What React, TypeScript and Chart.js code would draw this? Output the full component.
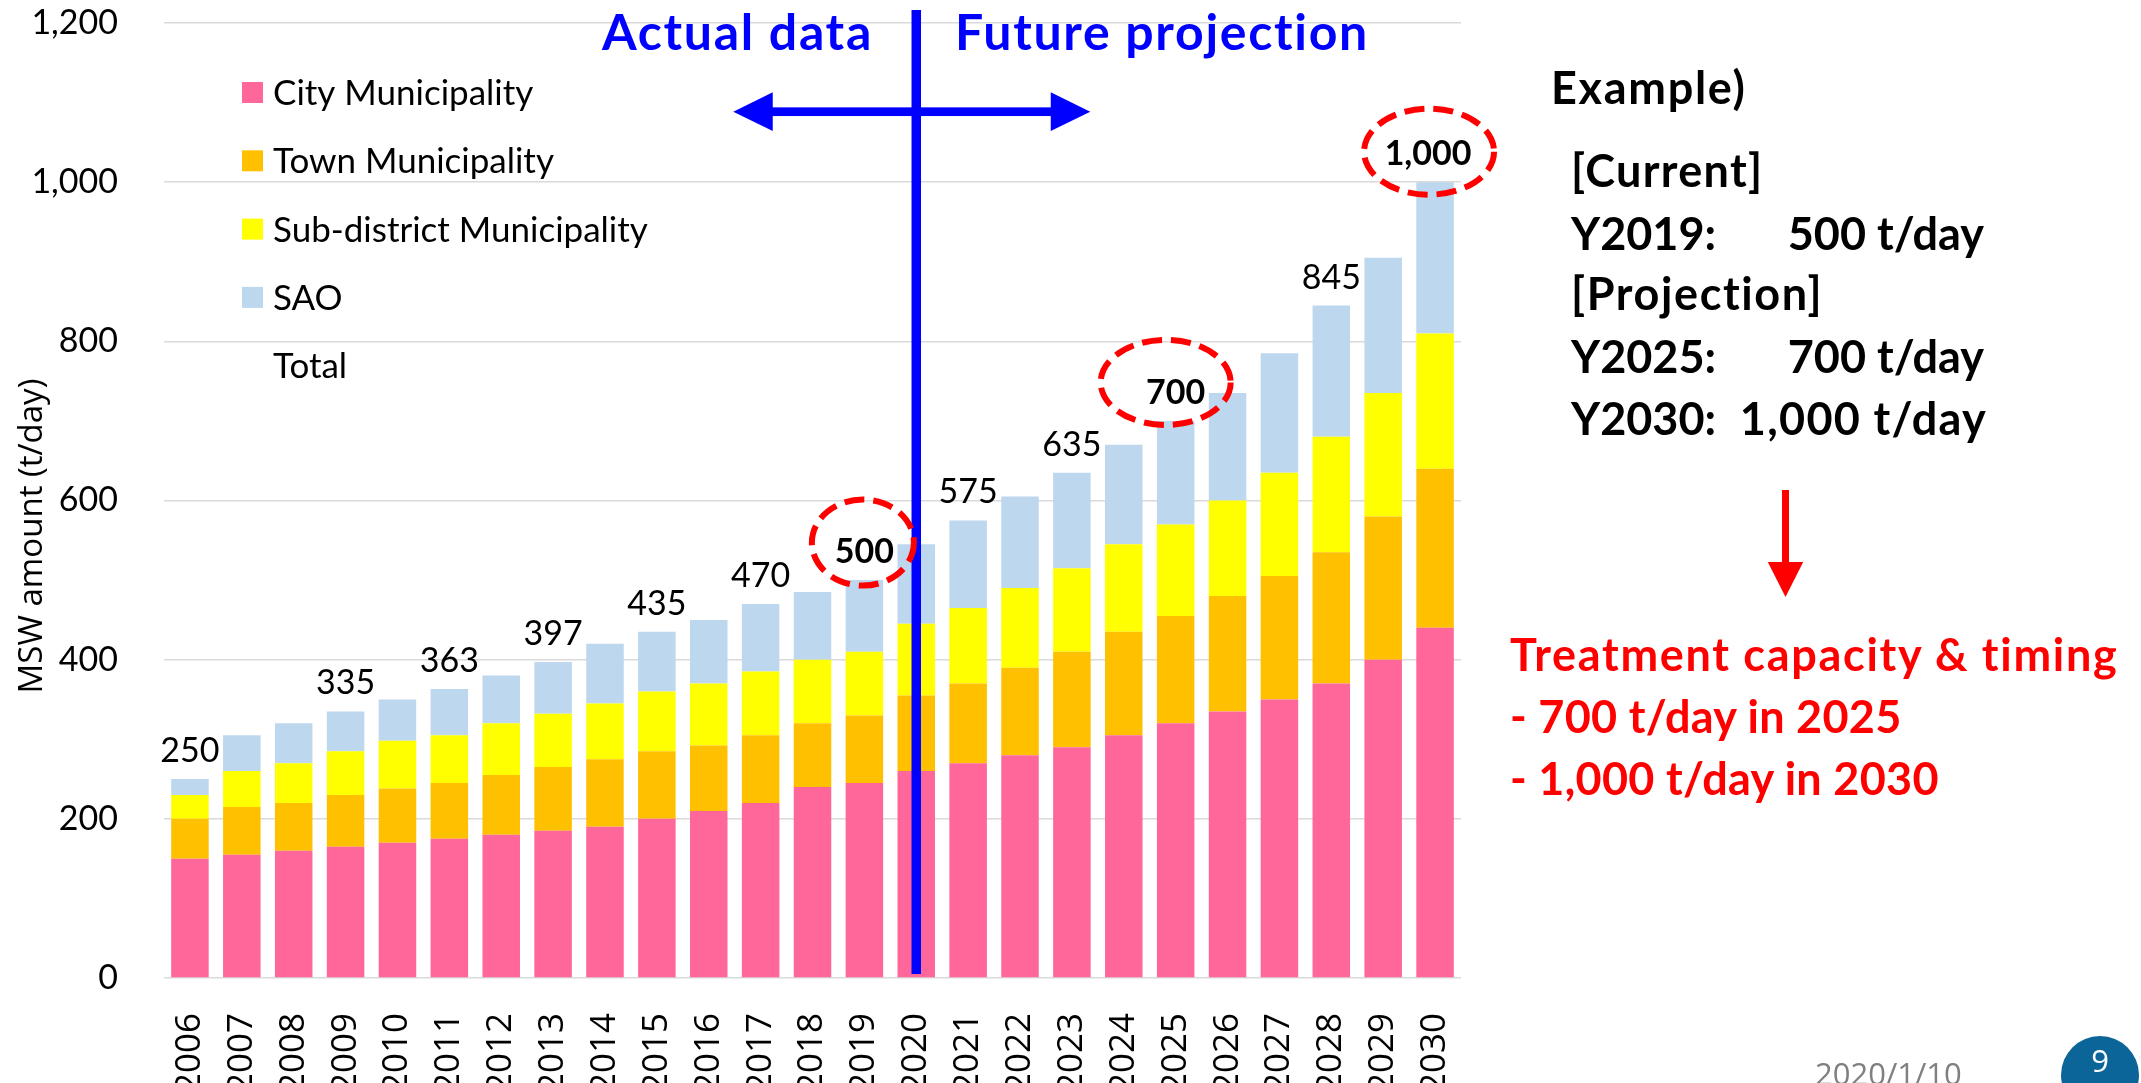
import React, { useEffect, useRef } from 'react';
import { Chart, registerables } from 'chart.js';

Chart.register(...registerables);

// ---------- data ----------
const years = [
  '2006', '2007', '2008', '2009', '2010', '2011', '2012', '2013', '2014', '2015',
  '2016', '2017', '2018', '2019', '2020', '2021', '2022', '2023', '2024', '2025',
  '2026', '2027', '2028', '2029', '2030',
];
const cityMunicipality = [150, 155, 160, 165, 170, 175, 180, 185, 190, 200, 210, 220, 240, 245, 260, 270, 280, 290, 305, 320, 335, 350, 370, 400, 440];
const townMunicipality = [50, 60, 60, 65, 68, 70, 75, 80, 85, 85, 82, 85, 80, 85, 95, 100, 110, 120, 130, 135, 145, 155, 165, 180, 200];
const subDistrictMunicipality = [30, 45, 50, 55, 60, 60, 65, 67, 70, 75, 78, 80, 80, 80, 90, 95, 100, 105, 110, 115, 120, 130, 145, 155, 170];
const saoValues = [20, 45, 50, 50, 52, 58, 60, 65, 75, 75, 80, 85, 85, 90, 100, 110, 115, 120, 125, 130, 135, 150, 165, 170, 190];
const totalValues = [250, 305, 320, 335, 350, 363, 380, 397, 420, 435, 450, 470, 485, 500, 545, 575, 605, 635, 670, 700, 735, 785, 845, 905, 1000];
const labeledYears = ['2006', '2009', '2011', '2013', '2015', '2017', '2019', '2021', '2023', '2025', '2028', '2030'];
const circledYears = ['2019', '2025', '2030'];
const dividerYear = '2020';
const yMax = 1200;
const yStep = 200;

const seriesNames = ['City Municipality', 'Town Municipality', 'Sub-district Municipality', 'SAO', 'Total'];
const seriesColors = ['#FF6699', '#FFC000', '#FFFF00', '#BDD7EE'];

const W = 2141;
const H = 1083;

const fmt = (v: number) => v.toLocaleString('en-US');

// annotation geometry (pixel tweaks relative to the bar top)
const ellipseShape: Record<string, { dx: number; dy: number; rx: number; ry: number; ldx: number }> = {
  '2019': { dx: -1.5, dy: -37.5, rx: 51, ry: 43, ldx: 0 },
  '2025': { dx: -10, dy: -38.5, rx: 65, ry: 42.5, ldx: 0 },
  '2030': { dx: -6, dy: -30.5, rx: 65, ry: 43, ldx: -7 },
};

function triangle(ctx: CanvasRenderingContext2D, pts: number[][]) {
  ctx.beginPath();
  ctx.moveTo(pts[0][0], pts[0][1]);
  for (let i = 1; i < pts.length; i++) ctx.lineTo(pts[i][0], pts[i][1]);
  ctx.closePath();
  ctx.fill();
}

const overlayPlugin = {
  id: 'overlayPlugin',
  afterDatasetsDraw(chart: any) {
    const ctx: CanvasRenderingContext2D = chart.ctx;
    const totalMeta = chart.getDatasetMeta(4);
    ctx.save();

    // legend
    chart.data.datasets.forEach((ds: any, i: number) => {
      const base = 105 + i * 68.3;
      if (ds.type !== 'line') {
        ctx.fillStyle = ds.backgroundColor;
        ctx.fillRect(242, base - 23, 21, 21);
      }
      ctx.fillStyle = '#000';
      ctx.font = '35px Lato';
      ctx.textAlign = 'left';
      ctx.textBaseline = 'alphabetic';
      ctx.fillText(ds.label, 273, base);
    });

    // divider line + double arrow
    const di = years.indexOf(dividerYear);
    const xd = totalMeta.data[di].x;
    ctx.fillStyle = '#0000FF';
    ctx.fillRect(xd - 4.75, 10, 9.5, chart.chartArea.bottom - 14);
    const ay = 111.7;
    ctx.fillRect(xd - 145, ay - 4.35, 280, 8.7);
    triangle(ctx, [[xd - 183, ay], [xd - 143.5, ay - 19.4], [xd - 143.5, ay + 19.4]]);
    triangle(ctx, [[xd + 174, ay], [xd + 134.5, ay - 19.4], [xd + 134.5, ay + 19.4]]);

    // total labels
    labeledYears.forEach((yr) => {
      const i = years.indexOf(yr);
      const pt = totalMeta.data[i];
      const bold = circledYears.includes(yr);
      const shape = ellipseShape[yr];
      ctx.font = (bold ? 'bold ' : '') + '34px Lato';
      ctx.fillStyle = '#000';
      ctx.textAlign = 'center';
      ctx.textBaseline = 'alphabetic';
      ctx.fillText(fmt(totalValues[i]), pt.x + (shape ? shape.ldx : 0), pt.y - 17);
    });

    // dashed ellipses
    ctx.strokeStyle = '#FF0000';
    ctx.lineWidth = 6;
    ctx.setLineDash([20, 9]);
    circledYears.forEach((yr) => {
      const i = years.indexOf(yr);
      const pt = totalMeta.data[i];
      const s = ellipseShape[yr];
      ctx.beginPath();
      ctx.ellipse(pt.x + s.dx, pt.y + s.dy, s.rx, s.ry, 0, 0, Math.PI * 2);
      ctx.stroke();
    });
    ctx.setLineDash([]);

    // red arrow
    ctx.fillStyle = '#FF0000';
    ctx.fillRect(1782, 490, 7, 75);
    triangle(ctx, [[1767.8, 562], [1803.2, 562], [1785.5, 597]]);

    ctx.restore();
  },
};

export default function App() {
  const canvasRef = useRef<HTMLCanvasElement | null>(null);

  useEffect(() => {
    const canvas = canvasRef.current;
    if (!canvas) return;
    const chart = new Chart(canvas, {
      type: 'bar',
      data: {
        labels: years,
        datasets: [
          { label: seriesNames[0], data: cityMunicipality, backgroundColor: seriesColors[0], borderWidth: 0, stack: 's' } as any,
          { label: seriesNames[1], data: townMunicipality, backgroundColor: seriesColors[1], borderWidth: 0, stack: 's' },
          { label: seriesNames[2], data: subDistrictMunicipality, backgroundColor: seriesColors[2], borderWidth: 0, stack: 's' },
          { label: seriesNames[3], data: saoValues, backgroundColor: seriesColors[3], borderWidth: 0, stack: 's' },
          {
            type: 'line',
            label: seriesNames[4],
            data: totalValues,
            showLine: false,
            pointRadius: 0,
            borderColor: 'rgba(0,0,0,0)',
            backgroundColor: 'rgba(0,0,0,0)',
            stack: 'total',
          },
        ],
      },
      options: {
        responsive: false,
        animation: false,
        devicePixelRatio: 1,
        layout: { padding: { left: 0, top: 23, right: W - 1461, bottom: 0 } },
        datasets: { bar: { barPercentage: 0.723, categoryPercentage: 1 } },
        plugins: { legend: { display: false }, tooltip: { enabled: false }, title: { display: false } },
        scales: {
          x: {
            stacked: true,
            grid: { display: false },
            border: { display: false },
            ticks: {
              autoSkip: false,
              minRotation: 90,
              maxRotation: 90,
              padding: 27,
              color: '#000',
              font: { family: 'Open Sans', size: 35 },
            },
            afterFit: (s: any) => {
              s.height = H - 978;
            },
          },
          y: {
            stacked: true,
            min: 0,
            max: yMax,
            grid: { color: '#DADADA', lineWidth: 1.5, drawTicks: false },
            border: { display: false },
            ticks: {
              stepSize: yStep,
              padding: 46,
              color: '#000',
              font: { family: 'Lato', size: 34 },
              callback: (v: any) => fmt(Number(v)),
            },
            afterFit: (s: any) => {
              s.width = 164;
              s.paddingTop = 21;
              s.paddingBottom = 21;
            },
          },
        },
      } as any,
      plugins: [overlayPlugin],
    });
    return () => chart.destroy();
  }, []);

  return (
    <div style={{ position: 'absolute', left: 0, top: 0, width: W, height: H, background: '#fff', overflow: 'hidden' }}>
      <canvas ref={canvasRef} width={W} height={H} style={{ position: 'absolute', left: 0, top: 0, width: W, height: H }} />
      <svg width={W} height={H} style={{ position: 'absolute', left: 0, top: 0, pointerEvents: 'none' }}>
        <text x={42} y={536} transform="rotate(-90 42 536)" textAnchor="middle" fontFamily="Open Sans" fontSize={33} fill="#000">
          MSW amount (t/day)
        </text>
        <g fontFamily="Lato" fontWeight="bold" fontSize={50} fill="#0000FF" letterSpacing={1.7}>
          <text x={602} y={50}>Actual data</text>
          <text x={955} y={50}>Future projection</text>
        </g>
        <g fontFamily="Lato" fontWeight="bold" fontSize={45} fill="#000">
          <text x={1551} y={104} letterSpacing={1.7}>Example)</text>
          <text x={1571} y={187} letterSpacing={1.3}>[Current]</text>
          <text x={1571} y={250}>Y2019:</text>
          <text x={1984} y={250} textAnchor="end">500 t/day</text>
          <text x={1571} y={310} letterSpacing={1.6}>[Projection]</text>
          <text x={1571} y={373}>Y2025:</text>
          <text x={1984} y={373} textAnchor="end">700 t/day</text>
          <text x={1571} y={435}>Y2030:</text>
          <text x={1987} y={435} textAnchor="end" letterSpacing={1.3}>1,000 t/day</text>
        </g>
        <g fontFamily="Lato" fontWeight="bold" fontSize={45} fill="#FF0000">
          <text x={1510} y={671} letterSpacing={1.7}>{'Treatment capacity & timing'}</text>
          <text x={1510} y={733} letterSpacing={0.3}>- 700 t/day in 2025</text>
          <text x={1510} y={795} letterSpacing={0.3}>- 1,000 t/day in 2030</text>
        </g>
        <text x={1815} y={1085} fontFamily="Open Sans" fontSize={31} fill="#808080">2020/1/10</text>
        <circle cx={2100} cy={1075} r={39} fill="#0B6599" />
        <text x={2100} y={1072} textAnchor="middle" fontFamily="Open Sans" fontSize={31} fill="#fff">9</text>
      </svg>
    </div>
  );
}
